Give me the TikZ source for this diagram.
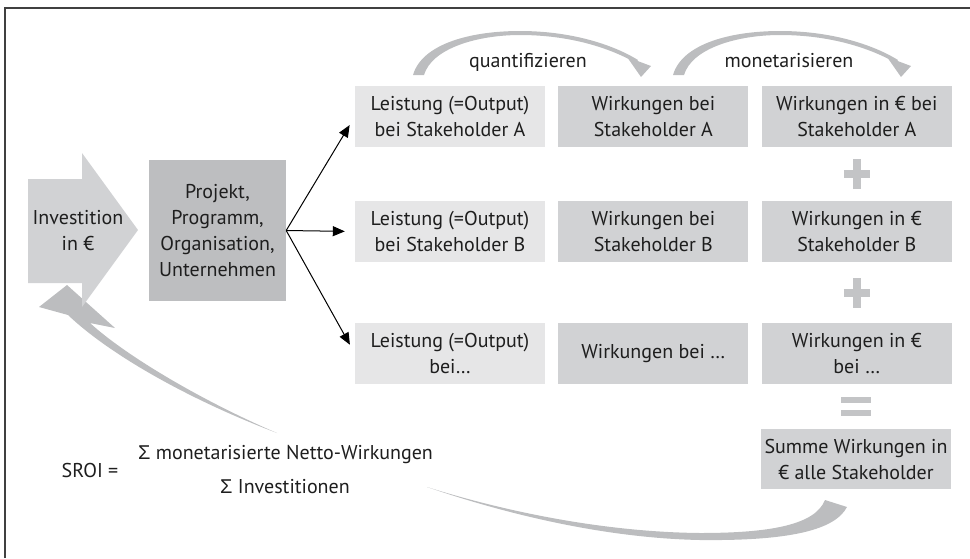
\documentclass[tikz,border=0pt]{standalone}
\usepackage{fontspec}
\setmainfont{PT Sans}
\newfontfamily\sigmafont{Liberation Sans}
\usepackage{tikz}
\usetikzlibrary{positioning,arrows.meta,calc}
\definecolor{leistgrey}{HTML}{E6E6E7}
\definecolor{wirkgrey}{HTML}{D1D2D4}
\definecolor{projgrey}{HTML}{BDBEC0}
\definecolor{swooshgrey}{HTML}{BCBDBF}
\definecolor{signgrey}{HTML}{C3C4C6}
\definecolor{frameline}{HTML}{404040}
\definecolor{inktext}{HTML}{1E1E1E}

\begin{document}
\begin{tikzpicture}[x=1pt,y=-1pt,
    font=\fontsize{20}{26}\selectfont,
    every node/.style={text=inktext},
    leistbox/.style={fill=leistgrey, minimum width=190pt, minimum height=61pt, inner sep=0pt, align=center},
    wirkbox/.style={fill=wirkgrey, minimum width=190pt, minimum height=61pt, inner sep=0pt, align=center},
    signbar/.style={draw=signgrey, line width=8pt},
    swoosh/.style={fill=swooshgrey},
    outarrow/.style={-{Triangle[length=12pt,width=10pt]}, line width=1pt, shorten >=10pt}]
    \useasboundingbox (0,0) rectangle (970,558);
    \draw[frameline, line width=1.5pt] (5,558) -- (5,8) -- (970,8);

    \fill[swoosh] (277,433) .. controls (190,400) and (110,355) .. (68,315)
        -- (39,307) -- (67,285) -- (115,328) -- (90,323)
        .. controls (125,355) and (200,400) .. (277,433) -- cycle;
    \fill[swoosh] (825,500) .. controls (815,525) and (770,533) .. (700,533)
        .. controls (600,532) and (500,510) .. (427,487)
        .. controls (500,512) and (600,538) .. (700,540)
        .. controls (790,541) and (835,530) .. (847,507) -- cycle;

    \fill[wirkgrey] (28,179) -- (82,179) -- (82,153) -- (138,230) -- (82,307) -- (82,283) -- (28,283) -- cycle;
    \node[align=center] (invest) at (78,231) {Investition\\in €};

    \node[fill=projgrey, minimum width=137pt, minimum height=141pt, inner sep=0pt, align=center] (proj) at (217.5,230.5)
        {Projekt,\\Programm,\\Organisation,\\Unternehmen};

    \node[leistbox] (lA) at (450,116.5) {Leistung (=Output)\\bei Stakeholder A};
    \node[wirkbox, right=13pt of lA] (wA) {Wirkungen bei\\Stakeholder A};
    \node[wirkbox, right=13pt of wA] (eA) {Wirkungen in € bei\\Stakeholder A};

    \node[leistbox] (lB) at (450,231.5) {Leistung (=Output)\\bei Stakeholder B};
    \node[wirkbox, right=13pt of lB] (wB) {Wirkungen bei\\Stakeholder B};
    \node[wirkbox, right=13pt of wB] (eB) {Wirkungen in €\\Stakeholder B};

    \node[leistbox] (lC) at (450,353.5) {Leistung (=Output)\\bei…};
    \node[wirkbox, right=13pt of lC] (wC) {Wirkungen bei …};
    \node[wirkbox, right=13pt of wC] (eC) {Wirkungen in €\\bei …};

    \node[wirkbox, minimum height=60pt] (sum) at (856,459) {Summe Wirkungen in\\€ alle Stakeholder};

    \draw[outarrow] (proj.east) -- (lA.west);
    \draw[outarrow] (proj.east) -- (lB.west);
    \draw[outarrow] (proj.east) -- (lC.west);

    \coordinate (plusAB) at ($(eA.south)!0.5!(eB.north)$);
    \coordinate (plusBC) at ($(eB.south)!0.5!(eC.north)$);
    \coordinate (equal) at ($(eC.south)!0.5!(sum.north)$);
    \draw[signbar] ([xshift=-13pt]plusAB) -- ([xshift=13pt]plusAB)
        ([yshift=-15pt]plusAB) -- ([yshift=15pt]plusAB);
    \draw[signbar] ([xshift=-13pt]plusBC) -- ([xshift=13pt]plusBC)
        ([yshift=-15pt]plusBC) -- ([yshift=15pt]plusBC);
    \draw[signbar, line width=6.5pt] ($(equal)+(-15,-6.5)$) -- ($(equal)+(15,-6.5)$)
        ($(equal)+(-15,6.5)$) -- ($(equal)+(15,6.5)$);

    \foreach \dx in {0,260} {
        \begin{scope}[xshift=\dx pt]
            \fill[swoosh] (413,75) .. controls (422,44) and (470,31) .. (520,31)
                .. controls (570,31) and (612,44) .. (638,60) -- (636,63)
                .. controls (610,48) and (570,35) .. (520,35)
                .. controls (478,35) and (432,48) .. (424,75) -- cycle;
            \fill[swoosh] (627,57) -- (651,66) -- (641,77) -- cycle;
        \end{scope}
    }
    \node (quant) at (528,62) {quantifizieren};
    \node (monet) at (789,61) {monetarisieren};

    \node (sroi) at (90,470) {SROI =};
    \node (num) at (285.5,455) {{\sigmafont Σ} monetarisierte Netto-Wirkungen};
    \node (den) at (285,487) {{\sigmafont Σ} Investitionen};
\end{tikzpicture}
\end{document}
